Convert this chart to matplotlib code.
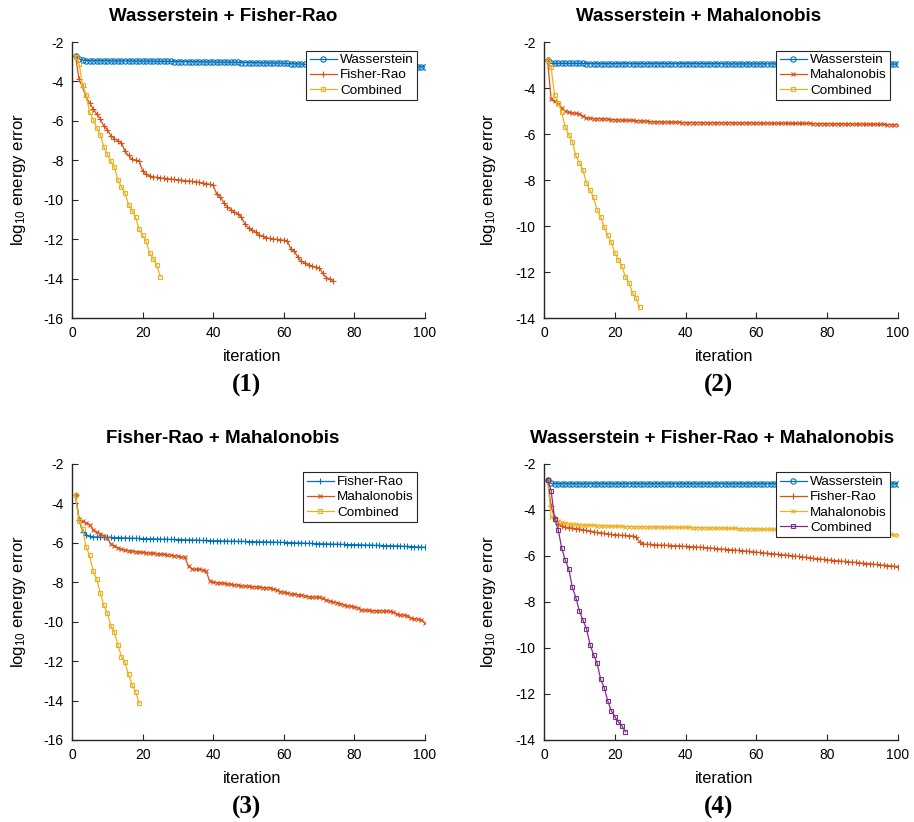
import numpy as np
import matplotlib
matplotlib.use("Agg")
import matplotlib.pyplot as plt

plt.rcParams["font.family"] = ["Liberation Sans", "DejaVu Sans"]
plt.rcParams["mathtext.fontset"] = "custom"
plt.rcParams["mathtext.rm"] = "Liberation Sans"
plt.rcParams["mathtext.it"] = "Liberation Sans:italic"
plt.rcParams["mathtext.bf"] = "Liberation Sans:bold"
plt.rcParams["axes.unicode_minus"] = False

# MATLAB default line colours
BLUE, RED, YELLOW, PURPLE = "#0072BD", "#D95319", "#EDB120", "#7E2F8E"

###### Data (log10 energy error per iteration).

# (1) Wasserstein + Fisher-Rao
p1_wass = [
    -2.70, -2.86, -2.92, -2.94, -2.95, -2.95, -2.95, -2.95, -2.95, -2.95,
    -2.96, -2.96, -2.96, -2.96, -2.96, -2.96, -2.96, -2.97, -2.97, -2.97,
    -2.97, -2.97, -2.97, -2.98, -2.98, -2.98, -2.98, -2.98, -2.99, -2.99,
    -2.99, -2.99, -3.00, -3.00, -3.00, -3.00, -3.01, -3.01, -3.01, -3.01,
    -3.02, -3.02, -3.02, -3.02, -3.03, -3.03, -3.03, -3.04, -3.04, -3.04,
    -3.05, -3.05, -3.05, -3.06, -3.06, -3.06, -3.07, -3.07, -3.07, -3.08,
    -3.09, -3.10, -3.10, -3.11, -3.12, -3.13, -3.14, -3.15, -3.15, -3.16,
    -3.16, -3.16, -3.17, -3.17, -3.17, -3.18, -3.18, -3.18, -3.19, -3.19,
    -3.19, -3.20, -3.20, -3.21, -3.21, -3.21, -3.22, -3.22, -3.22, -3.23,
    -3.23, -3.23, -3.24, -3.24, -3.24, -3.25, -3.25, -3.26, -3.26, -3.27,
]
p1_fisher = [
    -2.72, -3.90, -4.30, -4.80, -5.10, -5.40, -5.65, -5.90, -6.25, -6.45,
    -6.75, -6.90, -7.00, -7.10, -7.55, -7.75, -7.95, -8.00, -8.02, -8.55,
    -8.70, -8.80, -8.84, -8.87, -8.89, -8.91, -8.93, -8.95, -8.97, -8.99,
    -9.01, -9.03, -9.05, -9.07, -9.09, -9.12, -9.15, -9.18, -9.21, -9.27,
    -9.72, -9.85, -10.15, -10.38, -10.50, -10.62, -10.72, -10.88, -11.25, -11.42,
    -11.55, -11.65, -11.78, -11.85, -11.92, -11.96, -11.99, -12.01, -12.03, -12.05,
    -12.10, -12.50, -12.62, -12.92, -13.12, -13.22, -13.30, -13.36, -13.42, -13.46,
    -13.72, -13.95, -14.02, -14.10,
]
p1_comb = [
    -2.75, -3.10, -4.20, -4.70, -5.55, -5.95, -6.35, -6.70, -7.30, -7.70,
    -8.05, -8.35, -9.00, -9.35, -9.65, -10.25, -10.55, -10.90, -11.50, -11.80,
    -12.10, -12.70, -13.00, -13.30, -13.90,
]

# (2) Wasserstein + Mahalonobis
p2_wass = [
    -2.77, -2.93, -2.93, -2.93, -2.93, -2.93, -2.93, -2.93, -2.93, -2.93,
    -2.93, -2.94, -2.94, -2.94, -2.94, -2.94, -2.94, -2.94, -2.94, -2.94,
    -2.94, -2.94, -2.94, -2.94, -2.94, -2.94, -2.94, -2.94, -2.94, -2.94,
    -2.94, -2.94, -2.94, -2.94, -2.94, -2.94, -2.94, -2.94, -2.94, -2.94,
    -2.94, -2.94, -2.94, -2.94, -2.94, -2.94, -2.94, -2.94, -2.94, -2.94,
    -2.95, -2.95, -2.95, -2.95, -2.95, -2.95, -2.95, -2.95, -2.95, -2.95,
    -2.95, -2.95, -2.95, -2.95, -2.95, -2.95, -2.95, -2.95, -2.95, -2.95,
    -2.95, -2.95, -2.95, -2.95, -2.95, -2.95, -2.95, -2.95, -2.95, -2.95,
    -2.95, -2.95, -2.95, -2.95, -2.95, -2.95, -2.95, -2.95, -2.95, -2.95,
    -2.96, -2.96, -2.96, -2.96, -2.96, -2.96, -2.96, -2.96, -2.96, -2.96,
]
p2_maha = [
    -2.80, -4.46, -4.58, -4.68, -4.87, -5.01, -5.06, -5.08, -5.10, -5.13,
    -5.23, -5.30, -5.32, -5.33, -5.33, -5.34, -5.34, -5.35, -5.37, -5.38,
    -5.39, -5.40, -5.40, -5.41, -5.41, -5.42, -5.42, -5.43, -5.44, -5.46,
    -5.47, -5.47, -5.48, -5.48, -5.48, -5.49, -5.49, -5.49, -5.50, -5.50,
    -5.50, -5.50, -5.50, -5.50, -5.51, -5.51, -5.51, -5.51, -5.51, -5.51,
    -5.51, -5.51, -5.51, -5.52, -5.52, -5.52, -5.52, -5.52, -5.52, -5.52,
    -5.52, -5.53, -5.53, -5.53, -5.53, -5.53, -5.53, -5.53, -5.54, -5.54,
    -5.54, -5.54, -5.54, -5.54, -5.54, -5.55, -5.55, -5.55, -5.55, -5.55,
    -5.55, -5.56, -5.56, -5.56, -5.56, -5.56, -5.57, -5.57, -5.57, -5.57,
    -5.57, -5.58, -5.58, -5.58, -5.58, -5.58, -5.59, -5.59, -5.59, -5.59,
]
p2_comb = [
    -2.80, -3.10, -4.32, -4.65, -5.06, -5.71, -6.03, -6.36, -6.93, -7.26,
    -7.57, -8.12, -8.45, -8.75, -9.30, -9.59, -10.06, -10.41, -10.71, -11.17,
    -11.46, -11.74, -12.22, -12.46, -12.91, -13.14, -13.54,
]

# (3) Fisher-Rao + Mahalonobis
p3_fisher = [
    -3.59, -4.83, -5.45, -5.59, -5.67, -5.70, -5.71, -5.72, -5.72, -5.73,
    -5.73, -5.74, -5.74, -5.75, -5.75, -5.76, -5.77, -5.77, -5.78, -5.79,
    -5.79, -5.80, -5.80, -5.81, -5.81, -5.82, -5.82, -5.83, -5.83, -5.84,
    -5.84, -5.85, -5.85, -5.86, -5.86, -5.87, -5.88, -5.88, -5.89, -5.90,
    -5.90, -5.90, -5.91, -5.91, -5.92, -5.92, -5.93, -5.93, -5.93, -5.94,
    -5.94, -5.95, -5.95, -5.95, -5.96, -5.96, -5.97, -5.97, -5.98, -5.98,
    -5.99, -5.99, -6.00, -6.01, -6.01, -6.02, -6.03, -6.03, -6.04, -6.05,
    -6.05, -6.06, -6.06, -6.07, -6.07, -6.08, -6.08, -6.09, -6.09, -6.10,
    -6.10, -6.11, -6.11, -6.12, -6.12, -6.13, -6.13, -6.14, -6.15, -6.15,
    -6.16, -6.16, -6.17, -6.18, -6.18, -6.19, -6.20, -6.21, -6.22, -6.23,
]
p3_maha = [
    -3.59, -4.79, -4.91, -5.00, -5.08, -5.33, -5.47, -5.54, -5.64, -5.76,
    -6.06, -6.15, -6.25, -6.32, -6.37, -6.40, -6.43, -6.45, -6.47, -6.49,
    -6.51, -6.52, -6.54, -6.55, -6.57, -6.59, -6.61, -6.63, -6.65, -6.67,
    -6.70, -6.74, -7.20, -7.32, -7.34, -7.35, -7.37, -7.45, -7.93, -8.00,
    -8.02, -8.04, -8.06, -8.08, -8.11, -8.13, -8.15, -8.17, -8.19, -8.21,
    -8.22, -8.24, -8.25, -8.27, -8.28, -8.30, -8.33, -8.40, -8.47, -8.52,
    -8.55, -8.58, -8.61, -8.64, -8.67, -8.70, -8.73, -8.75, -8.76, -8.77,
    -8.82, -8.91, -8.96, -9.00, -9.03, -9.08, -9.14, -9.20, -9.22, -9.25,
    -9.30, -9.40, -9.42, -9.43, -9.44, -9.45, -9.45, -9.46, -9.46, -9.47,
    -9.52, -9.62, -9.65, -9.67, -9.69, -9.82, -9.85, -9.87, -9.90, -10.07,
]
p3_comb = [
    -3.59, -4.88, -5.28, -6.22, -6.64, -7.45, -7.83, -8.55, -9.18, -9.57,
    -10.21, -10.53, -11.18, -11.77, -12.07, -12.67, -13.21, -13.55, -14.14,
]

# (4) Wasserstein + Fisher-Rao + Mahalonobis
p4_wass = [
    -2.68, -2.85, -2.86, -2.86, -2.86, -2.86, -2.86, -2.86, -2.86, -2.86,
    -2.86, -2.86, -2.86, -2.86, -2.86, -2.86, -2.86, -2.86, -2.86, -2.86,
    -2.86, -2.86, -2.86, -2.86, -2.86, -2.86, -2.86, -2.86, -2.86, -2.86,
    -2.86, -2.86, -2.86, -2.86, -2.86, -2.86, -2.86, -2.86, -2.86, -2.86,
    -2.86, -2.86, -2.86, -2.86, -2.86, -2.86, -2.86, -2.86, -2.86, -2.86,
    -2.86, -2.86, -2.86, -2.86, -2.86, -2.86, -2.86, -2.86, -2.86, -2.86,
    -2.86, -2.86, -2.86, -2.86, -2.86, -2.86, -2.86, -2.86, -2.86, -2.86,
    -2.86, -2.86, -2.86, -2.86, -2.86, -2.86, -2.86, -2.86, -2.86, -2.86,
    -2.86, -2.86, -2.86, -2.86, -2.86, -2.86, -2.86, -2.86, -2.86, -2.86,
    -2.86, -2.86, -2.86, -2.86, -2.86, -2.86, -2.86, -2.86, -2.86, -2.86,
]
p4_fisher = [
    -2.68, -3.85, -4.35, -4.60, -4.71, -4.75, -4.77, -4.79, -4.81, -4.83,
    -4.86, -4.89, -4.92, -4.95, -4.98, -5.00, -5.02, -5.04, -5.06, -5.08,
    -5.09, -5.10, -5.11, -5.12, -5.13, -5.16, -5.40, -5.48, -5.49, -5.50,
    -5.51, -5.52, -5.53, -5.53, -5.54, -5.55, -5.56, -5.56, -5.57, -5.58,
    -5.59, -5.60, -5.61, -5.62, -5.63, -5.65, -5.66, -5.67, -5.68, -5.70,
    -5.71, -5.72, -5.73, -5.75, -5.76, -5.77, -5.79, -5.80, -5.82, -5.84,
    -5.85, -5.87, -5.88, -5.90, -5.91, -5.93, -5.94, -5.96, -5.97, -5.99,
    -6.01, -6.02, -6.04, -6.06, -6.08, -6.10, -6.12, -6.13, -6.15, -6.17,
    -6.18, -6.20, -6.21, -6.23, -6.24, -6.26, -6.27, -6.28, -6.30, -6.31,
    -6.33, -6.34, -6.36, -6.37, -6.39, -6.40, -6.42, -6.43, -6.45, -6.46,
]
p4_maha = [
    -2.68, -4.32, -4.42, -4.50, -4.54, -4.57, -4.59, -4.61, -4.63, -4.64,
    -4.65, -4.66, -4.67, -4.67, -4.68, -4.68, -4.69, -4.69, -4.70, -4.71,
    -4.71, -4.71, -4.72, -4.72, -4.72, -4.73, -4.73, -4.73, -4.73, -4.74,
    -4.74, -4.74, -4.74, -4.75, -4.75, -4.75, -4.75, -4.76, -4.76, -4.76,
    -4.76, -4.77, -4.77, -4.77, -4.77, -4.78, -4.78, -4.78, -4.79, -4.79,
    -4.79, -4.80, -4.80, -4.80, -4.81, -4.81, -4.81, -4.82, -4.82, -4.82,
    -4.83, -4.83, -4.84, -4.84, -4.85, -4.85, -4.86, -4.86, -4.87, -4.87,
    -4.88, -4.88, -4.89, -4.89, -4.90, -4.90, -4.91, -4.91, -4.92, -4.92,
    -4.93, -4.94, -4.94, -4.95, -4.96, -4.96, -4.97, -4.98, -4.98, -4.99,
    -5.00, -5.00, -5.01, -5.02, -5.03, -5.04, -5.05, -5.06, -5.07, -5.08,
]
p4_comb = [
    -2.68, -3.16, -4.39, -4.86, -5.66, -6.19, -6.57, -7.37, -7.81, -8.40,
    -8.79, -9.17, -9.85, -10.30, -10.66, -11.36, -11.72, -12.30, -12.73, -12.99,
    -13.22, -13.39, -13.64,
]

titles = [
    "Wasserstein + Fisher-Rao",
    "Wasserstein + Mahalonobis",
    "Fisher-Rao + Mahalonobis",
    "Wasserstein + Fisher-Rao + Mahalonobis",
]
panel_tags = ["(1)", "(2)", "(3)", "(4)"]
ymins = [-16, -14, -16, -14]

MARKERS = {
    "Wasserstein": dict(marker="o", ms=3.8),
    "Fisher-Rao": dict(marker="+", ms=4.5),
    "Mahalonobis": dict(marker="x", ms=3.0),
    "Combined": dict(marker="s", ms=3.2),
}

panels = [
    [("Wasserstein", p1_wass, BLUE), ("Fisher-Rao", p1_fisher, RED), ("Combined", p1_comb, YELLOW)],
    [("Wasserstein", p2_wass, BLUE), ("Mahalonobis", p2_maha, RED), ("Combined", p2_comb, YELLOW)],
    [("Fisher-Rao", p3_fisher, BLUE), ("Mahalonobis", p3_maha, RED), ("Combined", p3_comb, YELLOW)],
    [("Wasserstein", p4_wass, BLUE), ("Fisher-Rao", p4_fisher, RED),
     ("Mahalonobis", p4_maha, YELLOW), ("Combined", p4_comb, PURPLE)],
]

# axes rectangles in figure fractions (left, bottom, width, height)
rects = [
    (0.0788, 0.6131, 0.3862, 0.3358),
    (0.5952, 0.6131, 0.3873, 0.3358),
    (0.0788, 0.0998, 0.3862, 0.3358),
    (0.5952, 0.0998, 0.3873, 0.3358),
]
title_x = [0.428, 0.437, 0.428, 0.475]
ylabel_x = [-0.125, -0.13, -0.125, -0.13]

AXCOLOR = "#262626"

fig = plt.figure(figsize=(9.14, 8.22), dpi=100)

for i in range(4):
    ax = fig.add_axes(rects[i])
    for name, vals, col in panels[i]:
        x = np.arange(1, len(vals) + 1)
        ax.plot(x, vals, color=col, linewidth=0.9, mfc="none", mew=0.8,
                label=name, **MARKERS[name])

    ax.set_xlim(0, 100)
    ax.set_ylim(ymins[i], -2)
    ax.set_xticks(range(0, 101, 20))
    ax.set_yticks(range(ymins[i], -1, 2))

    for side in ("top", "right"):
        ax.spines[side].set_visible(False)
    for side in ("left", "bottom"):
        ax.spines[side].set_color(AXCOLOR)
        ax.spines[side].set_linewidth(1.0)
    ax.tick_params(direction="in", length=4, width=0.8, color=AXCOLOR,
                   labelcolor="black", labelsize=10, pad=6)

    ax.set_ylabel(r"log$_{10}$ energy error", fontsize=12)
    ax.yaxis.set_label_coords(ylabel_x[i], 0.5)

    ax.text(title_x[i], 1.092, titles[i], transform=ax.transAxes,
            ha="center", va="center", fontsize=13.5, fontweight="bold")
    ax.text(0.51, -0.14, "iteration", transform=ax.transAxes,
            ha="center", va="center", fontsize=11.8)
    ax.text(0.493, -0.245, panel_tags[i], transform=ax.transAxes,
            ha="center", va="center", fontsize=18, fontweight="bold",
            family="Liberation Serif")

    leg = ax.legend(loc="upper right", bbox_to_anchor=(0.978, 0.969),
                    fontsize=9.7, numpoints=1, fancybox=False, framealpha=1,
                    edgecolor=AXCOLOR, handlelength=2.0, handletextpad=0.25,
                    labelspacing=0.2, borderpad=0.25, borderaxespad=0)
    leg.get_frame().set_linewidth(0.8)

fig.savefig("out.png", dpi=100)
